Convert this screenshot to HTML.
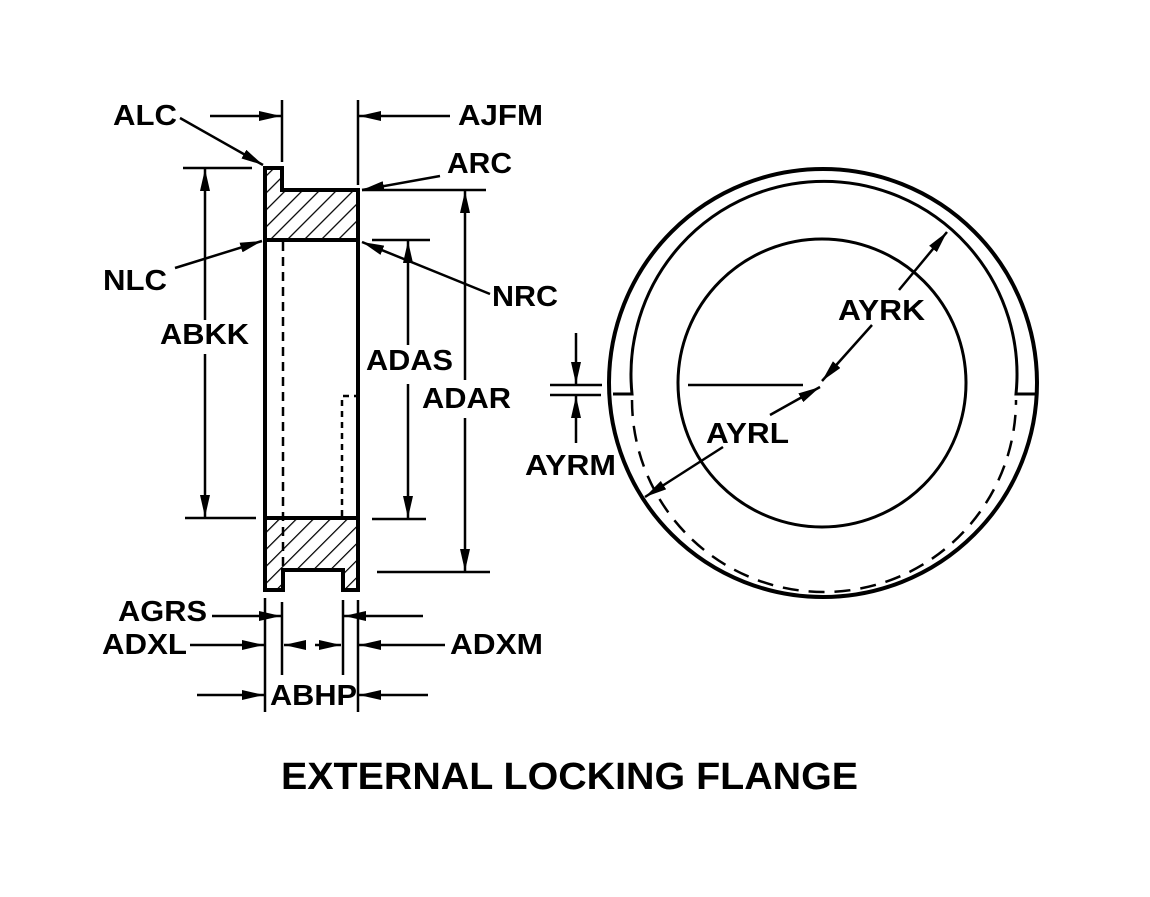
<!DOCTYPE html>
<html><head><style>html,body{margin:0;padding:0;background:#fff}svg{display:block}text{font-family:"Liberation Sans",sans-serif;font-weight:bold;fill:#000}</style></head>
<body>
<svg width="1150" height="897" viewBox="0 0 1150 897" xmlns="http://www.w3.org/2000/svg">
<defs>
<pattern id="h" patternUnits="userSpaceOnUse" width="12" height="12" patternTransform="rotate(45)">
<line x1="0" y1="0" x2="0" y2="12" stroke="#000" stroke-width="2.5"/></pattern>
<marker id="a" viewBox="0 0 22 10" refX="22" refY="5" markerWidth="22" markerHeight="10" markerUnits="userSpaceOnUse" orient="auto-start-reverse"><path d="M0,0L22,5L0,10z" fill="#000"/></marker>
</defs>
<g stroke="#000" fill="none">
<path d="M265,168 H282 V190 H358 V240 H265 Z" fill="url(#h)" stroke-width="4"/>
<path d="M265,518 H358 V590 H343 V570 H283 V590 H265 Z" fill="url(#h)" stroke-width="4"/>
<line x1="265" y1="240" x2="265" y2="518" stroke-width="4"/>
<line x1="358" y1="240" x2="358" y2="518" stroke-width="4"/>
<line x1="283" y1="242" x2="283" y2="566" stroke-width="2.5" stroke-dasharray="9,6"/>
<path d="M342,516 V396 H356" stroke-width="2.5" stroke-dasharray="6,5"/>
<g stroke-width="2.5">
<line x1="282" y1="100" x2="282" y2="162"/>
<line x1="358" y1="100" x2="358" y2="185"/>
<line x1="183" y1="168" x2="252" y2="168"/>
<line x1="185" y1="518" x2="256" y2="518"/>
<line x1="362" y1="190" x2="486" y2="190"/>
<line x1="372" y1="240" x2="430" y2="240"/>
<line x1="372" y1="519" x2="426" y2="519"/>
<line x1="377" y1="572" x2="490" y2="572"/>
<line x1="265" y1="598" x2="265" y2="712"/>
<line x1="282" y1="602" x2="282" y2="675"/>
<line x1="343" y1="600" x2="343" y2="675"/>
<line x1="358" y1="600" x2="358" y2="712"/>
</g>
<g stroke-width="2.5" marker-end="url(#a)">
<line x1="210" y1="116" x2="281" y2="116"/>
<line x1="450" y1="116" x2="359" y2="116"/>
<line x1="180" y1="118" x2="263" y2="165"/>
<line x1="440" y1="176" x2="362" y2="190"/>
<line x1="175" y1="268" x2="262" y2="241"/>
<line x1="490" y1="294" x2="362" y2="242"/>
<line x1="205" y1="320" x2="205" y2="169"/>
<line x1="205" y1="354" x2="205" y2="517"/>
<line x1="408" y1="345" x2="408" y2="241"/>
<line x1="408" y1="384" x2="408" y2="518"/>
<line x1="465" y1="380" x2="465" y2="191"/>
<line x1="465" y1="418" x2="465" y2="571"/>
<line x1="212" y1="616" x2="281" y2="616"/>
<line x1="423" y1="616" x2="344" y2="616"/>
<line x1="190" y1="645" x2="264" y2="645"/>
<line x1="445" y1="645" x2="359" y2="645"/>
<line x1="302" y1="645" x2="284" y2="645"/>
<line x1="315" y1="645" x2="341" y2="645"/>
<line x1="197" y1="695" x2="264" y2="695"/>
<line x1="428" y1="695" x2="359" y2="695"/>
</g>
<circle cx="823" cy="383" r="214" stroke-width="4"/>
<circle cx="822" cy="383" r="144" stroke-width="3"/>
<path d="M613,394 H632 A193,193 0 1 1 1016,394 H1036" stroke-width="3"/>
<path d="M632,400 A192,192 0 0 0 1016,400" stroke-width="2.5" stroke-dasharray="16,10"/>
<line x1="688" y1="385" x2="803" y2="385" stroke-width="2.5"/>
<g stroke-width="2.5" marker-end="url(#a)">
<line x1="872" y1="325" x2="822" y2="381"/>
<line x1="899" y1="290" x2="947" y2="232"/>
<line x1="770" y1="415" x2="820" y2="387"/>
<line x1="723" y1="447" x2="645" y2="497"/>
<line x1="576" y1="333" x2="576" y2="384"/>
<line x1="576" y1="443" x2="576" y2="396"/>
</g>
<line x1="550" y1="385" x2="602" y2="385" stroke-width="2.5"/>
<line x1="550" y1="395" x2="601" y2="395" stroke-width="2.5"/>
</g>
<g font-size="29" lengthAdjust="spacingAndGlyphs">
<text x="113" y="125" textLength="64" lengthAdjust="spacingAndGlyphs">ALC</text>
<text x="458" y="125" textLength="85" lengthAdjust="spacingAndGlyphs">AJFM</text>
<text x="447" y="173" textLength="65" lengthAdjust="spacingAndGlyphs">ARC</text>
<text x="103" y="290" textLength="64" lengthAdjust="spacingAndGlyphs">NLC</text>
<text x="492" y="306" textLength="66" lengthAdjust="spacingAndGlyphs">NRC</text>
<text x="160" y="344" textLength="89" lengthAdjust="spacingAndGlyphs">ABKK</text>
<text x="366" y="370" textLength="87" lengthAdjust="spacingAndGlyphs">ADAS</text>
<text x="422" y="408" textLength="89" lengthAdjust="spacingAndGlyphs">ADAR</text>
<text x="838" y="320" textLength="87" lengthAdjust="spacingAndGlyphs">AYRK</text>
<text x="706" y="443" textLength="83" lengthAdjust="spacingAndGlyphs">AYRL</text>
<text x="525" y="475" textLength="91" lengthAdjust="spacingAndGlyphs">AYRM</text>
<text x="118" y="621" textLength="89" lengthAdjust="spacingAndGlyphs">AGRS</text>
<text x="102" y="654" textLength="85" lengthAdjust="spacingAndGlyphs">ADXL</text>
<text x="450" y="654" textLength="93" lengthAdjust="spacingAndGlyphs">ADXM</text>
<text x="270" y="705" textLength="87" lengthAdjust="spacingAndGlyphs">ABHP</text>
</g>
<text x="281" y="789" font-size="38" textLength="577" lengthAdjust="spacingAndGlyphs">EXTERNAL LOCKING FLANGE</text>
</svg>
</body></html>
